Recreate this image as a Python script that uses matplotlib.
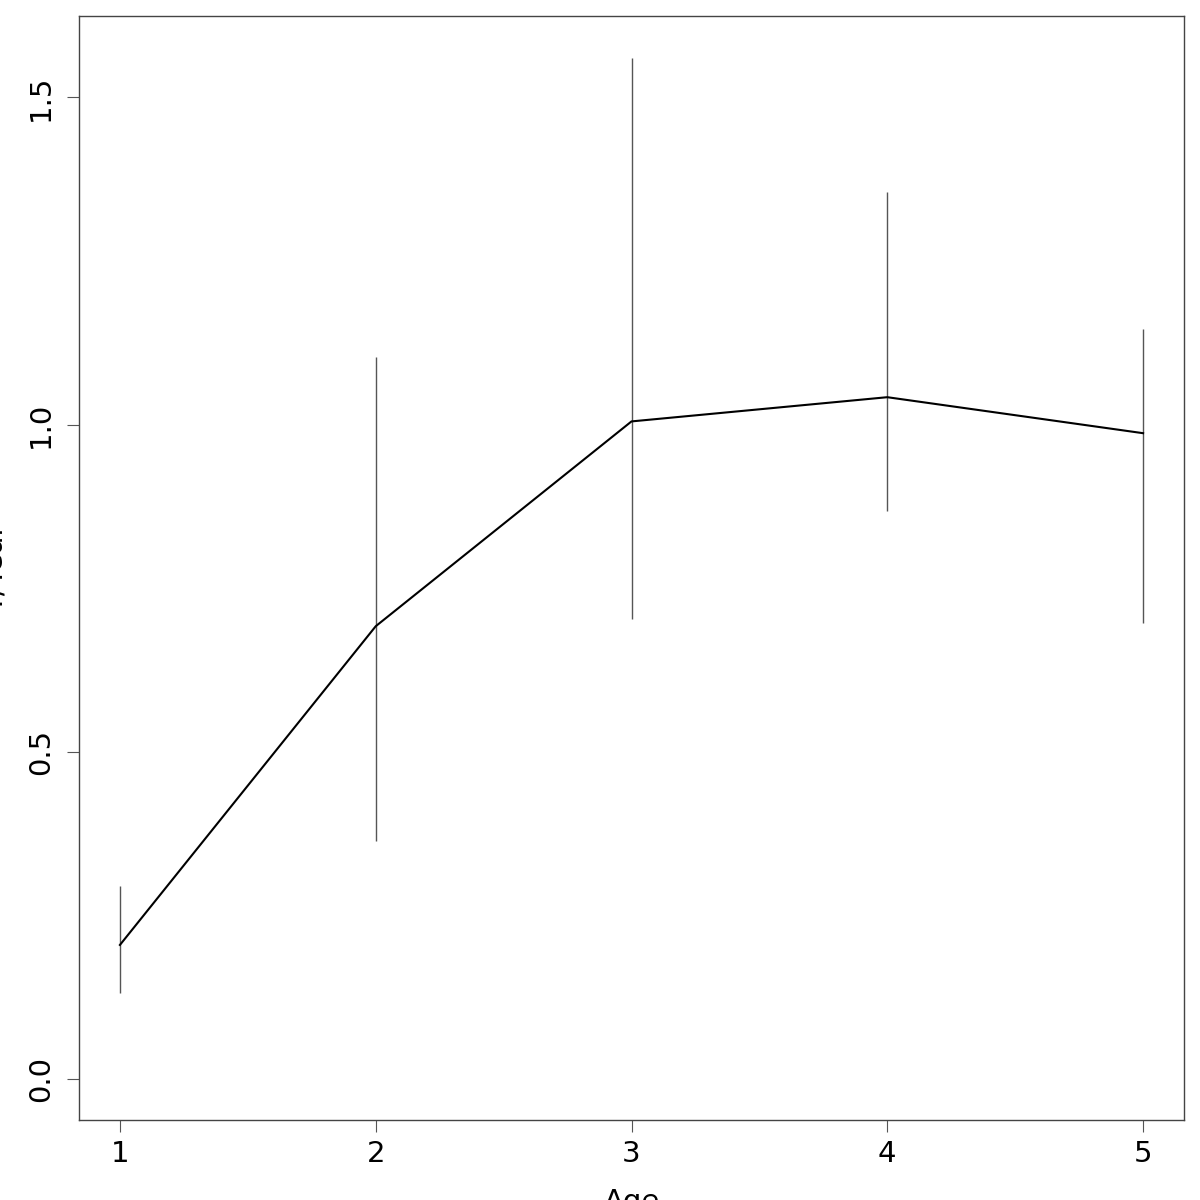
import matplotlib
matplotlib.use("Agg")
import matplotlib.pyplot as plt
import numpy as np

age = [1, 2, 3, 4, 5]
mean = [0.205, 0.692, 1.005, 1.042, 0.987]
lower = [0.131, 0.364, 0.703, 0.868, 0.697]
upper = [0.295, 1.104, 1.561, 1.356, 1.146]

fig = plt.figure(figsize=(12, 12), dpi=100)
ax = fig.add_axes([79/1200, 80/1200, 1105/1200, 1104/1200])

ax.vlines(age, lower, upper, color="#555555", lw=1)
ax.plot(age, mean, color="black", lw=1.5)

ax.set_xlim(1 - 0.16, 5 + 0.16)
ax.set_ylim(-0.0625, 1.6245)
ax.set_xticks(age)
ax.set_yticks([0.0, 0.5, 1.0, 1.5])
ax.set_yticklabels(["0.0", "0.5", "1.0", "1.5"], rotation=90, va="center")

for s in ax.spines.values():
    s.set_color("#444444")
    s.set_linewidth(1)
ax.tick_params(length=8.6, width=0.8, color="#555555", labelsize=21)
ax.tick_params(axis="x", pad=5.5)
ax.tick_params(axis="y", pad=8.5)

ax.set_xlabel("Age", fontsize=21)
ax.xaxis.set_label_coords(0.5, -0.0616)
ax.set_ylabel("Y/Year", fontsize=21)
ax.yaxis.set_label_coords(-0.064, 0.5)

fig.savefig("out.png", dpi=100)
